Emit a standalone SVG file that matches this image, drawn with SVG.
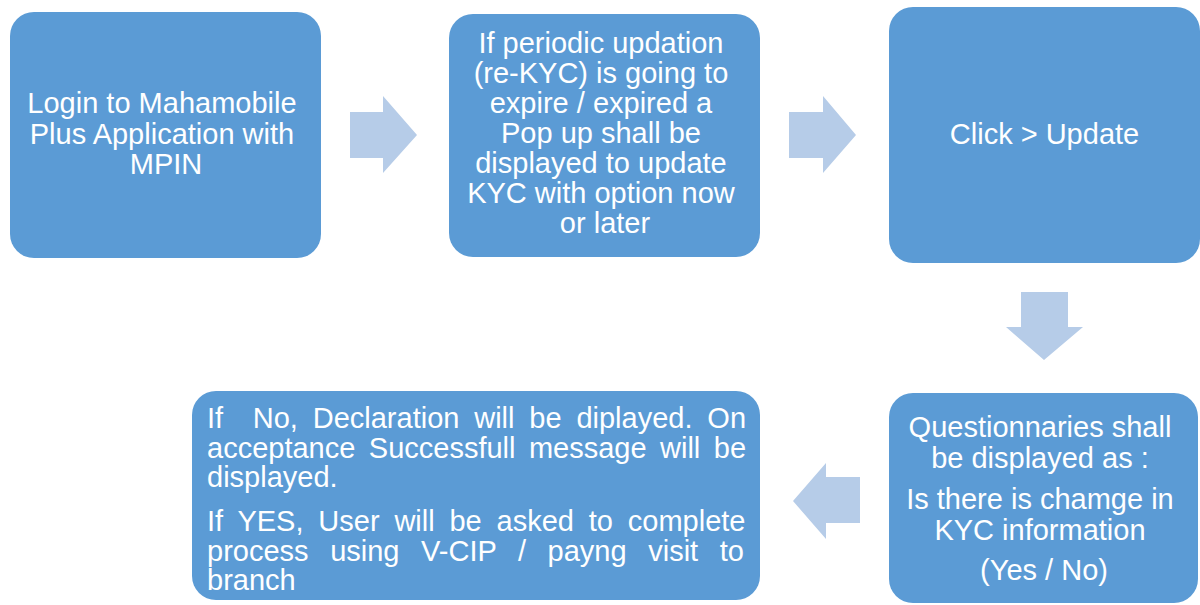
<svg xmlns="http://www.w3.org/2000/svg" width="1200" height="605" viewBox="0 0 1200 605">
  <style>
    .box { fill: #5B9BD5; }
    .arrow { fill: #B6CCE8; }
    .label { font-family: "Liberation Sans", Arial, sans-serif; font-size: 29px; fill: #FFFFFF; }
    .mid { text-anchor: middle; }
  </style>

  <!-- process steps -->
  <g id="step-login">
    <rect class="box" x="10" y="12" width="311" height="246" rx="24" ry="24"/>
    <text class="label mid">
      <tspan x="166" y="113">Login to Mahamobile</tspan>
      <tspan x="166" y="143.5">Plus Application with</tspan>
      <tspan x="166" y="174">MPIN</tspan>
    </text>
  </g>

  <g id="step-popup">
    <rect class="box" x="449" y="14" width="311" height="243" rx="24" ry="24"/>
    <text class="label mid">
      <tspan x="605" y="53">If periodic updation</tspan>
      <tspan x="605" y="83">(re-KYC) is going to</tspan>
      <tspan x="605" y="113">expire / expired a</tspan>
      <tspan x="605" y="143">Pop up shall be</tspan>
      <tspan x="605" y="173">displayed to update</tspan>
      <tspan x="605" y="203">KYC with option now</tspan>
      <tspan x="605" y="233">or later</tspan>
    </text>
  </g>

  <g id="step-update">
    <rect class="box" x="889" y="7" width="311" height="256" rx="24" ry="24"/>
    <text class="label mid" x="1044.5" y="144">Click &gt; Update</text>
  </g>

  <g id="step-questions">
    <rect class="box" x="889" y="393" width="309" height="210" rx="24" ry="24"/>
    <text class="label mid">
      <tspan x="1044" y="437">Questionnaries shall</tspan>
      <tspan x="1044" y="467.5">be displayed as :</tspan>
      <tspan x="1044" y="509">Is there is chamge in</tspan>
      <tspan x="1044" y="539.5">KYC information</tspan>
      <tspan x="1044" y="580">(Yes / No)</tspan>
    </text>
  </g>

  <g id="step-outcome">
    <rect class="box" x="192" y="391" width="568" height="209" rx="24" ry="24"/>
    <!-- justified paragraph lines -->
    <text class="label">
      <tspan x="207" y="428" word-spacing="6.77" xml:space="preserve">If  No, Declaration will be diplayed. On</tspan>
      <tspan x="207" y="457.5" word-spacing="5.4">acceptance Successfull message will be</tspan>
      <tspan x="207" y="487">displayed.</tspan>
      <tspan x="207" y="531" word-spacing="6.77">If YES, User will be asked to complete</tspan>
      <tspan x="207" y="560.5" word-spacing="13.55">process using V-CIP / payng visit to</tspan>
      <tspan x="207" y="590">branch</tspan>
    </text>
  </g>

  <!-- block arrows between steps -->
  <g id="connectors">
    <polygon class="arrow" points="350,112 383,112 383,96 417,135 383,173 383,158 350,158"/>
    <polygon class="arrow" points="789,112 823,112 823,96 856,135 823,173 823,158 789,158"/>
    <polygon class="arrow" points="1021,292 1068,292 1068,327 1083,327 1044,360 1006,327 1021,327"/>
    <polygon class="arrow" points="860,477 826,477 826,463 793,501 826,539 826,523 860,523"/>
  </g>
</svg>
